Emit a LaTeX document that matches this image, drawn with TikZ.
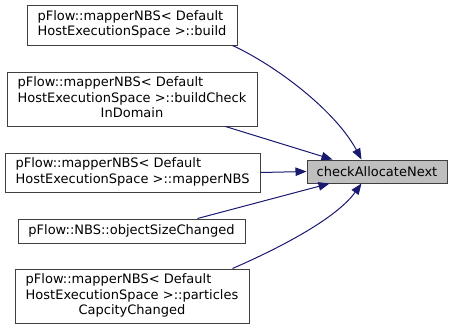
\documentclass[tikz,border=0pt]{standalone}
\usepackage{fontspec}
\setmainfont{DejaVu Sans}
\usetikzlibrary{arrows.meta,calc}

\definecolor{edgeblue}{HTML}{191970}
\definecolor{boxline}{HTML}{404040}
\definecolor{hilite}{HTML}{BFBFBF}

% function labels: leading lines left-aligned, last line centred
\newcommand{\twoline}[2]{\begin{tabular}{@{}l@{}}#1\\\multicolumn{1}{@{}c@{}}{#2}\end{tabular}}
\newcommand{\threeline}[3]{\begin{tabular}{@{}l@{}}#1\\#2\\\multicolumn{1}{@{}c@{}}{#3}\end{tabular}}

\tikzset{
  fnbox/.style={draw=boxline, line width=1pt, fill=white, inner sep=0pt,
    font=\fontsize{13}{15.5}\selectfont},
  curbox/.style={fnbox, fill=hilite},
  calledge/.style={draw=edgeblue, line width=1pt,
    -{Triangle[length=11pt,width=8.5pt]}}
}

\begin{document}
\begin{tikzpicture}[x=1pt,y=-1pt]
\useasboundingbox (0,0) rectangle (457,330);

\node[fnbox, minimum width=210pt, minimum height=40pt] (b1) at (132,25)
  {\twoline{pFlow::mapperNBS< Default}{HostExecutionSpace >::build}};
\node[fnbox, minimum width=250pt, minimum height=54pt] (b2) at (132,99)
  {\threeline{pFlow::mapperNBS< Default}{HostExecutionSpace >::buildCheck}{InDomain}};
\node[fnbox, minimum width=255pt, minimum height=39pt] (b3) at (132.5,172.5)
  {\twoline{pFlow::mapperNBS< Default}{HostExecutionSpace >::mapperNBS}};
\node[fnbox, minimum width=227pt, minimum height=24pt] (b4) at (131.5,231)
  {pFlow::NBS::objectSizeChanged};
\node[fnbox, minimum width=234pt, minimum height=54pt] (b5) at (132,296)
  {\threeline{pFlow::mapperNBS< Default}{HostExecutionSpace >::particles}{CapcityChanged}};

\node[curbox, minimum width=140pt, minimum height=23pt] (c) at (377,171.5)
  {checkAllocateNext};

\draw[calledge] ($(b1.south east)+(-5,0)$) .. controls (275,65) and (335,110) .. ($(c.north west)+(55,0)$);
\draw[calledge] ($(b2.south east)+(-32,0)$) -- ($(c.north west)+(26,0)$);
\draw[calledge] (b3.east) -- (c.west);
\draw[calledge] ($(b4.north east)+(-48,0)$) -- ($(c.south west)+(23,0)$);
\draw[calledge] ($(b5.north east)+(-17,0)$) .. controls (275,250) and (335,220) .. ($(c.south west)+(55,0)$);
\end{tikzpicture}
\end{document}
